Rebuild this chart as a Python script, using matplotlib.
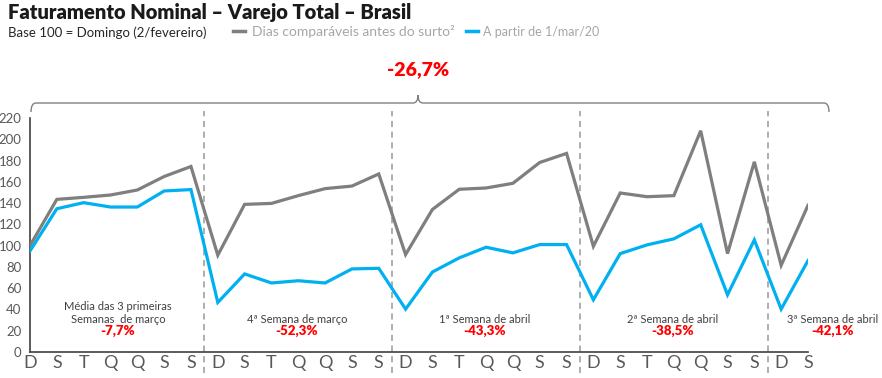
import matplotlib
matplotlib.use("Agg")
import matplotlib.pyplot as plt
from matplotlib.path import Path
from matplotlib.patches import PathPatch
import matplotlib.transforms as mtransforms

days = ["D", "S", "T", "Q", "Q", "S", "S"] * 4 + ["D", "S"]
antes = [100, 143.5, 145.4, 147.6, 152.3, 165, 174.4,
         91, 138.8, 139.7, 147, 153.6, 156, 167.4,
         91.6, 134, 153, 154.2, 158.6, 178.2, 186.7,
         99.4, 149.5, 146, 147, 208, 92.5, 178.8,
         81.5, 137.9]
apartir = [95, 134.7, 140.4, 136.3, 136.3, 151.4, 152.7,
           46.6, 73.4, 64.9, 67, 64.9, 78.1, 78.7,
           40.3, 75.2, 88.5, 98.5, 93.2, 101, 101,
           49.1, 92.5, 100.7, 106.4, 119.6, 53.8, 105.4,
           40.3, 85.9]
week_labels = ["Média das 3 primeiras\nSemanas  de março", "4ª Semana de março",
               "1ª Semana de abril", "2ª Semana de abril", "3ª Semana de abril"]
week_values = ["-7,7%", "-52,3%", "-43,3%", "-38,5%", "-42,1%"]
total_value = "-26,7%"
yticks = [0, 20, 40, 60, 80, 100, 120, 140, 160, 180, 200, 220]

FONT = "Lato"
GRAY = "#7f7f7f"
BLUE = "#00b0f0"
RED = "#ff0000"

fig = plt.figure(figsize=(8.82, 3.78), dpi=100)
W, H = 882, 378
ax = fig.add_axes([30 / W, 1 - 352 / H, (808 - 30) / W, (352 - 118) / H])
x = list(range(len(days)))
ax.plot(x, antes, color=GRAY, lw=2.3, solid_joinstyle="miter", zorder=3)
ax.plot(x, apartir, color=BLUE, lw=2.3, solid_joinstyle="miter", zorder=3)
ax.set_xlim(0, len(days) - 1)
ax.set_ylim(0, 220)
ax.set_yticks(yticks)
ax.set_yticklabels([str(v) for v in yticks], fontsize=9.5, color="#595959", family=FONT)
ax.set_xticks(x)
ax.set_xticklabels(days, fontsize=13, color="#595959", family=FONT)
ax.tick_params(axis="y", length=0, pad=6)
ax.tick_params(axis="x", length=0, pad=2)
for s in ["top", "right"]:
    ax.spines[s].set_visible(False)
for s in ["left", "bottom"]:
    ax.spines[s].set_color("#404040")
    ax.spines[s].set_linewidth(1.2)

# separators
trans = mtransforms.blended_transform_factory(ax.transData, ax.transAxes)
for i in range(1, 5):
    xs = 7 * i - 0.5
    ax.plot([xs, xs], [-0.09, 1.03], transform=trans, color="#999999", lw=1.1,
            ls=(0, (4, 3)), clip_on=False, zorder=1)

# week annotations
centers = [3.28, 9.95, 16.96, 23.97, 29.93]
for c, lab, val in zip(centers, week_labels, week_values):
    if "\n" in lab:
        ax.text(c, 36.5, lab, ha="center", va="center", fontsize=8, color="#404040",
                family=FONT, linespacing=1.25, clip_on=False)
    else:
        ax.text(c, 31, lab, ha="center", va="center", fontsize=8, color="#404040",
                family=FONT, clip_on=False)
    ax.text(c, 20, val, ha="center", va="center", fontsize=9.5, color=RED,
            family=FONT, fontweight="heavy", clip_on=False)

# brace (figure pixel coords)
def px(xp, yp):
    return (xp / W, 1 - yp / H)

xl, xr, xc = 31, 829, 418
yb, ye, yt = 103, 112, 95
verts = [px(xl, ye), px(xl, yb), px(xl + 5, yb),
         px(xc - 5, yb), px(xc, yb), px(xc, yt),
         px(xc, yt), px(xc, yb), px(xc + 5, yb),
         px(xr - 5, yb), px(xr, yb), px(xr, ye)]
codes = [Path.MOVETO, Path.CURVE3, Path.CURVE3,
         Path.LINETO, Path.CURVE3, Path.CURVE3,
         Path.MOVETO, Path.CURVE3, Path.CURVE3,
         Path.LINETO, Path.CURVE3, Path.CURVE3]
fig.patches.append(PathPatch(Path(verts, codes), transform=fig.transFigure,
                             fill=False, edgecolor="#808080", lw=1.0))
fig.text(xc / W, 1 - 70 / H, total_value, ha="center", va="center", fontsize=14,
         color=RED, fontweight="heavy", family=FONT)

# titles
fig.text(8 / W, 1 - 12 / H, "Faturamento Nominal – Varejo Total – Brasil", ha="left",
         va="center", fontsize=14.5, fontweight="heavy", color="#1a1a1a", family=FONT)
fig.text(8 / W, 1 - 33 / H, "Base 100 = Domingo (2/fevereiro)", ha="left", va="center",
         fontsize=9.5, color="#262626", family=FONT)
# legend
ly = 1 - 31 / H
fig.add_artist(plt.Line2D([233 / W, 245 / W], [ly, ly], color=GRAY, lw=2.5))
fig.text(252 / W, 1 - 32 / H, "Dias comparáveis antes do surto²", ha="left", va="center",
         fontsize=10, color="#a6a6a6", family=FONT)
fig.add_artist(plt.Line2D([466 / W, 478 / W], [ly, ly], color=BLUE, lw=2.5))
fig.text(483 / W, 1 - 32 / H, "A partir de 1/mar/20", ha="left", va="center",
         fontsize=9, color="#a6a6a6", family=FONT)

fig.savefig("out.png", dpi=100)
